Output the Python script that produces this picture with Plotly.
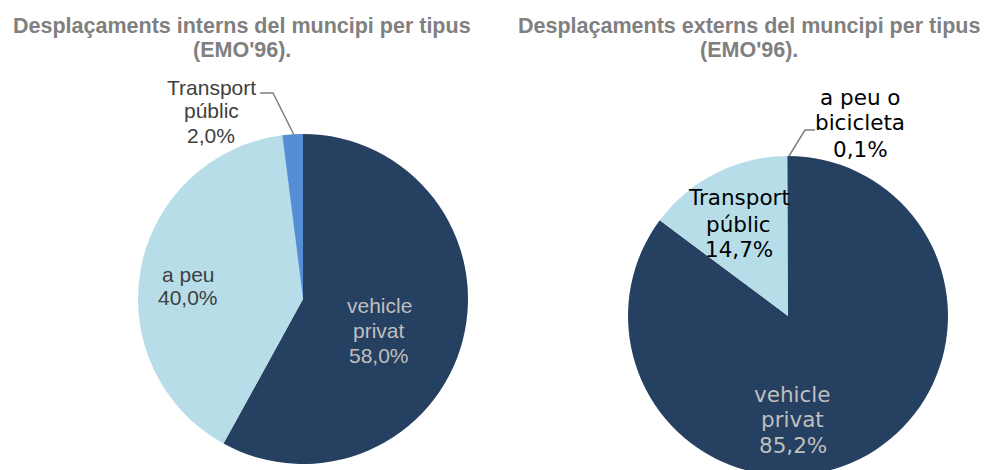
import plotly.graph_objects as go

W, H = 984, 470
FIG_H = 480  # slightly taller than the window so the right pie is cut at the bottom, as in the reference

# ---- data ----
labels_int = ["vehicle privat", "a peu", "Transport públic"]
values_int = [58.0, 40.0, 2.0]
colors_int = ["#264061", "#B7DDE8", "#558ED5"]

labels_ext = ["vehicle privat", "Transport públic", "a peu o bicicleta"]
values_ext = [85.2, 14.7, 0.1]
colors_ext = ["#264061", "#B7DDE8", "#558ED5"]

title_int = ["Desplaçaments interns del muncipi per tipus", "(EMO'96)."]
title_ext = ["Desplaçaments externs del muncipi per tipus", "(EMO'96)."]

# how each label is wrapped in the chart
wrap = {
    "vehicle privat": ["vehicle", "privat"],
    "a peu": ["a peu"],
    "Transport públic": ["Transport", "públic"],
    "a peu o bicicleta": ["a peu o", "bicicleta"],
}


def px(x):
    return x / W


def py(y):
    return 1 - y / FIG_H


def dom(cx, cy, r):
    return dict(x=[px(cx - r), px(cx + r)], y=[max(0, py(cy + r)), py(cy - r)])


def fmt(v):
    return f"{v:.1f}".replace(".", ",") + "%"


fig = go.Figure()
fig.add_trace(go.Pie(
    labels=labels_int, values=values_int, sort=False, direction="clockwise",
    rotation=0, marker=dict(colors=colors_int, line=dict(width=0)),
    textinfo="none", hoverinfo="none", showlegend=False,
    domain=dom(303, 299, 165),
))
fig.add_trace(go.Pie(
    labels=labels_ext, values=values_ext, sort=False, direction="clockwise",
    rotation=0, marker=dict(colors=colors_ext, line=dict(width=0)),
    textinfo="none", hoverinfo="none", showlegend=False,
    domain=dom(788, 316, 160),
))

ann = []


def add_line(text, x, y, family, size, color, bold=False):
    ann.append(dict(text=f"<b>{text}</b>" if bold else text, x=px(x), y=py(y),
                    xref="paper", yref="paper", xanchor="center", yanchor="middle",
                    showarrow=False, font=dict(family=family, size=size, color=color)))


# titles
for lines, cx in [(title_int, 242), (title_ext, 749)]:
    for line, cy in zip(lines, [26.5, 50]):
        add_line(line, cx, cy, "Liberation Sans", 21.5, "#808080", bold=True)

arial = "Liberation Sans"
verd = "DejaVu Sans"


def add_label(name, val, cx, ys, family, size, color):
    lines = wrap[name] + [fmt(val)]
    for line, y in zip(lines, ys):
        add_line(line, cx, y, family, size, color)


# left pie labels
add_label(labels_int[0], values_int[0], 379, [305, 330, 355.5], arial, 21, "#BFBFBF")
add_label(labels_int[1], values_int[1], 188, [274, 297.5], arial, 21, "#404040")
add_label(labels_int[2], values_int[2], 211, [87.5, 111, 135.5], arial, 21, "#404040")
# right pie labels
add_label(labels_ext[0], values_ext[0], 792.5, [394, 419.5, 445.5], verd, 21.5, "#BFBFBF")
add_label(labels_ext[1], values_ext[1], 738.5, [197.5, 224, 249.5], verd, 21.5, "#000000")
add_label(labels_ext[2], values_ext[2], 860, [97.5, 123, 149], verd, 21.5, "#000000")


def path(pts):
    return "M " + " L ".join(f"{px(x):.5f},{py(y):.5f}" for x, y in pts)


shapes = [
    dict(type="path", xref="paper", yref="paper", path=path([(260, 93), (273, 93), (295, 137)]),
         line=dict(color="#808080", width=1.5)),
    dict(type="path", xref="paper", yref="paper", path=path([(815, 130), (805, 130), (789, 156)]),
         line=dict(color="#808080", width=1.5)),
]

fig.update_layout(
    width=W, height=FIG_H, margin=dict(l=0, r=0, t=0, b=0),
    paper_bgcolor="white", plot_bgcolor="white",
    annotations=ann, shapes=shapes,
)
fig.write_html(
    "out.html",
    config={"displayModeBar": False},
    post_script=(
        "document.body.style.margin='0';"
        "document.body.style.overflow='hidden';"
        "document.documentElement.style.overflow='hidden';"
    ),
)
